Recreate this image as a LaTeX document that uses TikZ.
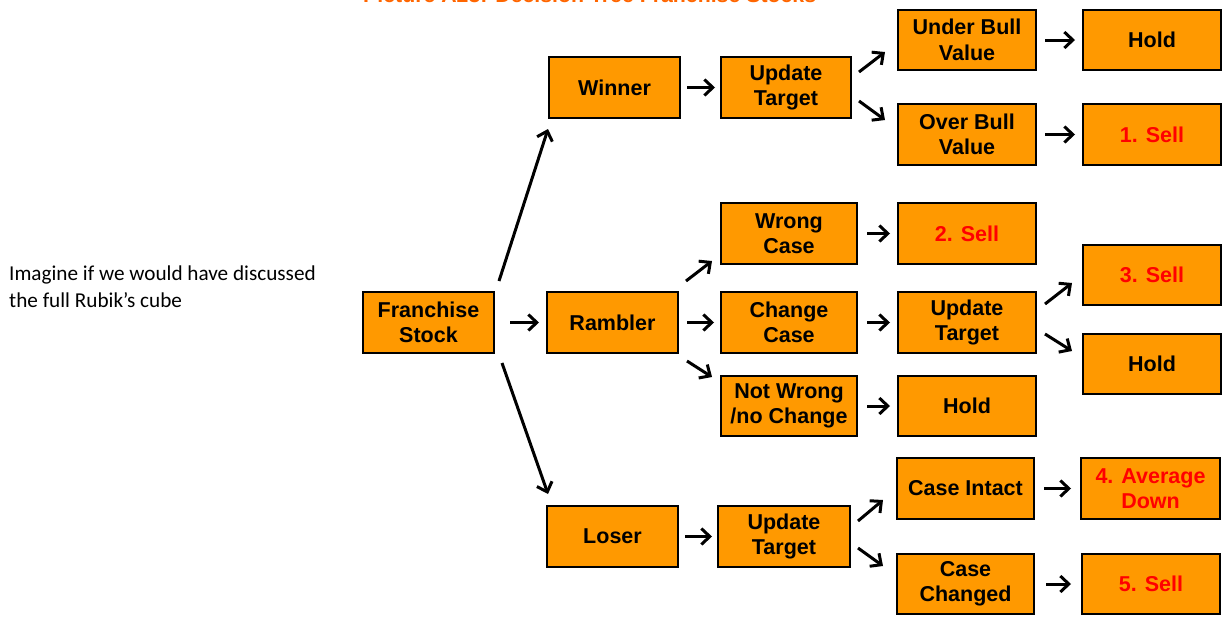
\documentclass[tikz,border=0pt]{standalone}
\usepackage{fontspec}
\setmainfont{Liberation Sans}
\newfontfamily\calib{Carlito}
\usetikzlibrary{arrows.meta}
\definecolor{boxorange}{RGB}{255,153,0}
\definecolor{titleorange}{RGB}{255,102,0}
\definecolor{sellred}{RGB}{255,0,0}
\tikzset{
  box/.style={draw=black, line width=2pt, fill=boxorange, align=center,
    minimum width=131pt, minimum height=61pt, inner sep=1pt,
    font=\fontsize{21.5}{25.5}\selectfont\bfseries},
  sell/.style={box, text=sellred},
  arr/.style={line width=3pt, -{Straight Barb[length=8.5pt,width=16pt]}},
}
\begin{document}
\begin{tikzpicture}[x=1pt,y=-1pt]
\useasboundingbox (0,0) rectangle (1223,619);
\fill[white] (0,0) rectangle (1223,619);
% title (cut off at top)
\node[anchor=base west, inner sep=0, text=titleorange, font=\fontsize{21.3}{24}\selectfont\bfseries] (title) at (363,2.5) {Picture A23: Decision Tree Franchise Stocks};
% side note
\node[anchor=north west, inner sep=0, align=left, font=\calib\fontsize{21.2}{27}\selectfont] (note) at (9,266) {Imagine if we would have discussed\\the full Rubik’s cube};
% nodes
\node[box] (fs) at (428.5,322.5) {Franchise\\Stock};
\node[box] (win) at (614.5,87.5) {Winner};
\node[box] (ram) at (612.5,322.5) {Rambler};
\node[box] (los) at (612.5,536.5) {Loser};
\node[box, minimum width=130pt] (ut1) at (786,87.5) {Update\\Target};
\node[box, minimum width=136pt] (wc) at (789,233.5) {Wrong\\Case};
\node[box, minimum width=136pt] (cc) at (789,322.5) {Change\\Case};
\node[box, minimum width=136pt, minimum height=60pt] (nw) at (789,406) {Not Wrong\\/no Change};
\node[box, minimum width=132pt] (ut3) at (784,536.5) {Update\\Target};
\node[box, minimum width=138pt, minimum height=60pt] (ub) at (967,40) {Under Bull\\Value};
\node[box, minimum width=138pt] (ob) at (967,134.5) {Over Bull\\Value};
\node[sell, minimum width=138pt] (s2) at (967,233.5) {2. Sell};
\node[box, minimum width=138pt] (ut2) at (967,322.5) {Update\\Target};
\node[box, minimum width=138pt, minimum height=60pt] (h2) at (967,406) {Hold};
\node[box, minimum width=137pt] (ci) at (965.5,488.5) {Case Intact};
\node[box, minimum width=137pt, minimum height=60pt] (cch) at (965.5,584) {Case\\Changed};
\node[box, minimum width=138pt, minimum height=60pt] (h1) at (1152,40) {Hold};
\node[sell, minimum width=138pt] (s1) at (1152,134.5) {1. Sell};
\node[sell, minimum width=138pt, minimum height=60pt] (s3) at (1152,275) {3. Sell};
\node[box, minimum width=138pt, minimum height=60pt] (h3) at (1152,364) {Hold};
\node[sell, minimum width=139pt] (s4) at (1150.5,488.5) {4. Average\\Down};
\node[sell, minimum width=138pt, minimum height=60pt] (s5) at (1151,584) {5. Sell};
% horizontal arrows
\draw[arr, shorten <=15pt, shorten >=7pt] (fs.east) -- (ram.west);
\draw[arr, shorten <=6pt, shorten >=5pt] (win.east) -- (ut1.west);
\draw[arr, shorten <=8pt, shorten >=6pt] (ram.east) -- (cc.west);
\draw[arr, shorten <=6pt, shorten >=5pt] (los.east) -- (ut3.west);
\draw[arr, shorten <=8pt, shorten >=7pt] (ub.east) -- (h1.west);
\draw[arr, shorten <=8pt, shorten >=7pt] (ob.east) -- (s1.west);
\draw[arr, shorten <=9pt, shorten >=7pt] (wc.east) -- (s2.west);
\draw[arr, shorten <=9pt, shorten >=7pt] (cc.east) -- (ut2.west);
\draw[arr, shorten <=9pt, shorten >=7pt] (nw.east) -- (h2.west);
\draw[arr, shorten <=9pt, shorten >=9pt] (ci.east) -- (s4.west);
\draw[arr, shorten <=11pt, shorten >=10pt] (cch.east) -- (s5.west);
% diagonal arrows
\draw[arr] ([shift={(4pt,10pt)}]fs.north east) -- ([shift={(0pt,-10pt)}]win.south west);
\draw[arr] ([shift={(7pt,-9pt)}]fs.south east) -- ([shift={(2pt,11pt)}]los.north west);
\draw[arr] ([shift={(7pt,15.5pt)}]ut1.east) -- ([shift={(-12pt,-12pt)}]ub.west);
\draw[arr] ([shift={(7pt,-13.5pt)}]ut1.east) -- ([shift={(-12pt,14.5pt)}]ob.west);
\draw[arr] ([shift={(7pt,10pt)}]ram.north east) -- ([shift={(-8pt,4pt)}]wc.south west);
\draw[arr] ([shift={(8pt,-7pt)}]ram.south east) -- ([shift={(-8pt,-2pt)}]nw.north west);
\draw[arr] ([shift={(8pt,-13pt)}]ut2.north east) -- ([shift={(-10pt,-8pt)}]s3.west);
\draw[arr] ([shift={(8pt,20pt)}]ut2.south east) -- ([shift={(-10pt,13pt)}]h3.west);
\draw[arr] ([shift={(7pt,15.5pt)}]ut3.east) -- ([shift={(-13pt,-11.5pt)}]ci.west);
\draw[arr] ([shift={(7pt,-11.5pt)}]ut3.east) -- ([shift={(-13pt,18pt)}]cch.west);
\end{tikzpicture}
\end{document}
